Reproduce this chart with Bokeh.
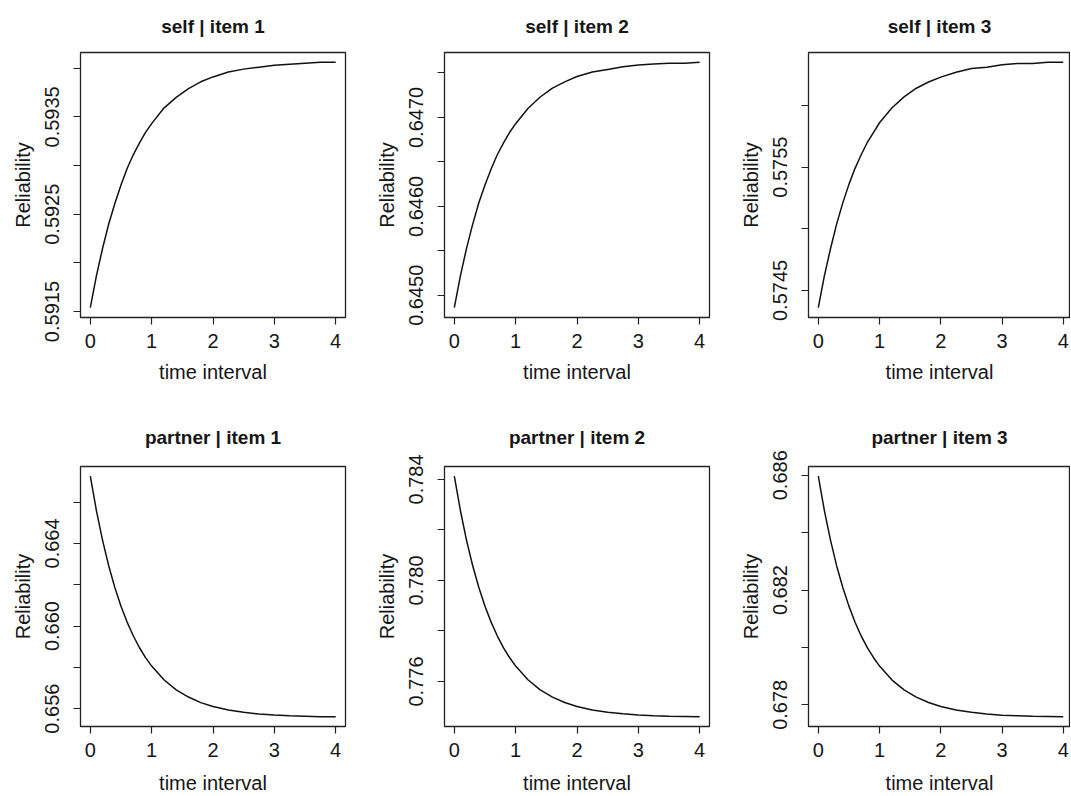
from bokeh.plotting import figure
from bokeh.layouts import column, row
from bokeh.models import Range1d, FixedTicker, PrintfTickFormatter
from bokeh.embed import file_html
from bokeh.resources import INLINE

# ---------------- data ----------------
time_interval = [0.0, 0.1, 0.2, 0.3, 0.4, 0.5, 0.6, 0.7, 0.8, 0.9, 1.0,
                 1.2, 1.4, 1.6, 1.8, 2.0, 2.25, 2.5, 2.75, 3.0, 3.25, 3.5, 3.75, 4.0]

self_item1 = [0.59154, 0.59187, 0.59215, 0.59240, 0.59261, 0.59280, 0.59297, 0.59311,
              0.59323, 0.59334, 0.59343, 0.59359, 0.59370, 0.59379, 0.59386, 0.59391,
              0.59396, 0.59399, 0.59401, 0.59403, 0.59404, 0.59405, 0.59406, 0.59406]
self_item2 = [0.64486, 0.64522, 0.64553, 0.64580, 0.64604, 0.64624, 0.64642, 0.64658,
              0.64671, 0.64683, 0.64693, 0.64710, 0.64723, 0.64733, 0.64740, 0.64746,
              0.64751, 0.64754, 0.64757, 0.64759, 0.64760, 0.64761, 0.64761, 0.64762]
self_item3 = [0.57436, 0.57462, 0.57484, 0.57504, 0.57521, 0.57536, 0.57549, 0.57560,
              0.57570, 0.57578, 0.57586, 0.57598, 0.57607, 0.57614, 0.57619, 0.57623,
              0.57627, 0.57630, 0.57631, 0.57633, 0.57634, 0.57634, 0.57635, 0.57635]
partner_item1 = [0.66726, 0.66558, 0.66415, 0.66292, 0.66186, 0.66096, 0.66019, 0.65953,
                 0.65896, 0.65847, 0.65806, 0.65740, 0.65691, 0.65656, 0.65629, 0.65610,
                 0.65593, 0.65582, 0.65574, 0.65569, 0.65565, 0.65563, 0.65561, 0.65560]
partner_item2 = [0.78413, 0.78276, 0.78158, 0.78058, 0.77972, 0.77898, 0.77835, 0.77781,
                 0.77734, 0.77695, 0.77661, 0.77607, 0.77567, 0.77538, 0.77517, 0.77501,
                 0.77487, 0.77478, 0.77472, 0.77467, 0.77464, 0.77462, 0.77461, 0.77460]
partner_item3 = [0.68597, 0.68476, 0.68373, 0.68284, 0.68209, 0.68144, 0.68088, 0.68040,
                 0.67999, 0.67965, 0.67935, 0.67887, 0.67852, 0.67827, 0.67808, 0.67794,
                 0.67782, 0.67774, 0.67768, 0.67764, 0.67762, 0.67760, 0.67759, 0.67758]

titles = ["self | item 1", "self | item 2", "self | item 3",
          "partner | item 1", "partner | item 2", "partner | item 3"]

x_ticks = [0, 1, 2, 3, 4]

y_major_self1 = [0.5915, 0.5925, 0.5935]
y_minor_self1 = [0.5920, 0.5930, 0.5940]
y_major_self2 = [0.6450, 0.6460, 0.6470]
y_minor_self2 = [0.6455, 0.6465, 0.6475]
y_major_self3 = [0.5745, 0.5755]
y_minor_self3 = [0.5750, 0.5760]
y_major_partner1 = [0.656, 0.660, 0.664]
y_minor_partner1 = [0.658, 0.662, 0.666]
y_major_partner2 = [0.776, 0.780, 0.784]
y_minor_partner2 = [0.778, 0.782]
y_major_partner3 = [0.678, 0.682, 0.686]
y_minor_partner3 = [0.680, 0.684]

x_label = "time interval"
y_label = "Reliability"

# ---------------- styling ----------------
FONT = "Liberation Sans"
TXT = "#161616"
FS_TITLE = "19px"
FS = "20px"


def make_panel(title, ys, major, minor, fmt, col, rw):
    if col < 2:
        width, b_right, x_end = 364, 19, 4.16
    else:
        width, b_right, x_end = 342, 0, 4.118
    if rw == 0:
        height, b_top, b_bottom, t_standoff = 408, 52, 91, 28
    else:
        height, b_top, b_bottom, t_standoff = 388, 58, 65, 34
    lo, hi = min(ys), max(ys)
    pad = 0.04 * (hi - lo)
    p = figure(width=width, height=height, output_backend="svg", toolbar_location=None,
               x_range=Range1d(-0.16, x_end), y_range=Range1d(lo - pad, hi + pad),
               min_border_left=80, min_border_right=b_right,
               min_border_top=b_top, min_border_bottom=b_bottom,
               title=title)
    p.title.text_font = FONT
    p.title.text_font_size = FS_TITLE
    p.title.text_font_style = "bold"
    p.title.text_color = TXT
    p.title.align = "center"
    p.title.vertical_align = "top"
    p.title.standoff = t_standoff
    p.grid.visible = False
    p.outline_line_color = "#222222"
    p.outline_line_width = 1.3
    p.background_fill_color = "white"
    p.border_fill_color = "white"

    p.xaxis.ticker = FixedTicker(ticks=x_ticks)
    p.yaxis.ticker = FixedTicker(ticks=major, minor_ticks=minor)
    p.yaxis.formatter = PrintfTickFormatter(format=fmt)
    for ax in (p.xaxis[0], p.yaxis[0]):
        ax.axis_line_color = None
        ax.major_tick_in = 0
        ax.major_tick_out = 7
        ax.minor_tick_in = 0
        ax.minor_tick_out = 7
        ax.major_tick_line_color = "#222222"
        ax.minor_tick_line_color = "#222222"
        ax.major_tick_line_width = 1.2
        ax.minor_tick_line_width = 1.2
        ax.major_label_text_font = FONT
        ax.major_label_text_font_size = FS
        ax.major_label_text_color = TXT
        ax.axis_label_text_font = FONT
        ax.axis_label_text_font_size = FS
        ax.axis_label_text_font_style = "normal"
        ax.axis_label_text_color = TXT
    p.xaxis.minor_tick_line_color = None
    p.xaxis.axis_label = x_label
    p.yaxis.axis_label = y_label
    p.yaxis.major_label_orientation = "parallel"
    p.xaxis.major_label_standoff = 9
    p.yaxis.major_label_standoff = 14
    p.yaxis.axis_label_standoff = 9
    p.xaxis.axis_label_standoff = 10 if rw == 0 else 12

    p.line(time_interval, ys, line_color="#111111", line_width=1.5)
    return p


series = [self_item1, self_item2, self_item3, partner_item1, partner_item2, partner_item3]
majors = [y_major_self1, y_major_self2, y_major_self3,
          y_major_partner1, y_major_partner2, y_major_partner3]
minors = [y_minor_self1, y_minor_self2, y_minor_self3,
          y_minor_partner1, y_minor_partner2, y_minor_partner3]
fmts = ["%.4f", "%.4f", "%.4f", "%.3f", "%.3f", "%.3f"]

panels = []
for i in range(6):
    panels.append(make_panel(titles[i], series[i], majors[i], minors[i], fmts[i], i % 3, i // 3))

layout = column(row(*panels[:3], spacing=0), row(*panels[3:], spacing=0), spacing=0)

with open("out.html", "w") as f:
    f.write(file_html(layout, INLINE))
